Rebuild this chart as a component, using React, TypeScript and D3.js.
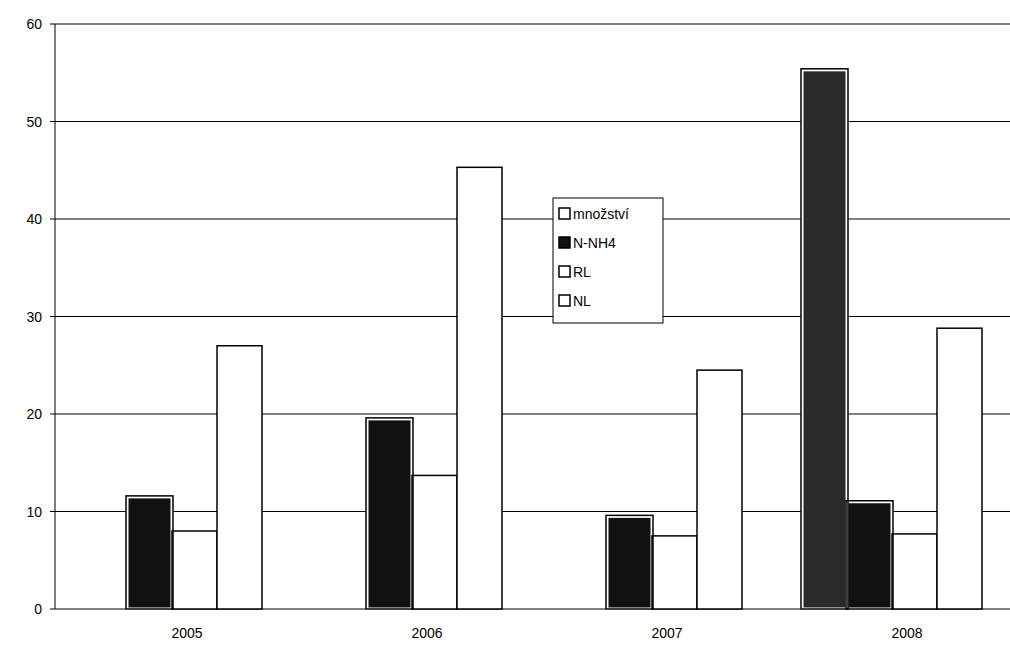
import React from 'react';
import * as d3 from 'd3';

const years = ['2005', '2006', '2007', '2008'];
const seriesNames = ['množství', 'N-NH4', 'RL', 'NL'];
const mnozstvi = [0, 0, 0, 55.3];
const nnh4 = [11.5, 19.5, 9.5, 11];
const rl = [8, 13.7, 7.5, 7.7];
const nl = [27, 45.3, 24.5, 28.8];
const yTicks = [0, 10, 20, 30, 40, 50, 60];

const fills = ['#2a2a2a', '#111', '#fff', '#fff'];
const legendFills = ['#fff', '#111', '#fff', '#fff'];

export default function App(): JSX.Element {
	const W = 1010, H = 645;
	const data = [mnozstvi, nnh4, rl, nl];
	const x = d3.scaleBand(years, [52, 1012]).paddingInner(0.25).paddingOuter(0.125);
	const xs = d3.scaleBand(seriesNames, [0, x.bandwidth()]);
	const y = d3.scaleLinear([0, 60], [609, 24]);
	return (
		<svg width={W} height={H} style={{ position: 'absolute', left: 0, top: 0, background: '#fff', fontFamily: 'Arial, "Liberation Sans", sans-serif' }}>
			{yTicks.map(t => (
				<g key={t}>
					<line x1={55} x2={1010} y1={y(t)} y2={y(t)} stroke="#000" strokeWidth={1} />
					<line x1={50} x2={55} y1={y(t)} y2={y(t)} stroke="#000" />
					<text x={42} y={y(t) + 5} textAnchor="end" fontSize={14}>{t}</text>
				</g>
			))}
			<line x1={55} x2={55} y1={y(60)} y2={y(0)} stroke="#000" />
			{years.map((yr, i) => (
				<g key={yr}>
					{data.map((s, j) => s[i] > 0 && (
						<rect key={j} x={(x(yr) || 0) + (xs(seriesNames[j]) || 0)} width={xs.bandwidth()}
							y={y(s[i])} height={y(0) - y(s[i])} fill={fills[j]} stroke={j < 2 ? '#fff' : '#000'}
							strokeWidth={j < 2 ? 3 : 1.5} style={{ outline: 'none' }} />
					))}
					{data.map((s, j) => s[i] > 0 && j < 2 && (
						<rect key={'o' + j} x={(x(yr) || 0) + (xs(seriesNames[j]) || 0) - 1} width={xs.bandwidth() + 2}
							y={y(s[i]) - 1} height={y(0) - y(s[i]) + 1} fill="none" stroke="#000" strokeWidth={1.5} />
					))}
					<text x={(x(yr) || 0) + x.bandwidth() / 2 + 15} y={638} textAnchor="middle" fontSize={14}>{yr}</text>
				</g>
			))}
			<g transform="translate(553,198)">
				<rect width={110} height={125} fill="#fff" stroke="#000" />
				{seriesNames.map((n, i) => (
					<g key={n} transform={`translate(6,${16 + i * 29})`}>
						<rect x={0} y={-6} width={11} height={11} fill={legendFills[i]} stroke="#000" strokeWidth={1.5} />
						<text x={14} y={5} fontSize={14}>{n}</text>
					</g>
				))}
			</g>
		</svg>
	);
}
